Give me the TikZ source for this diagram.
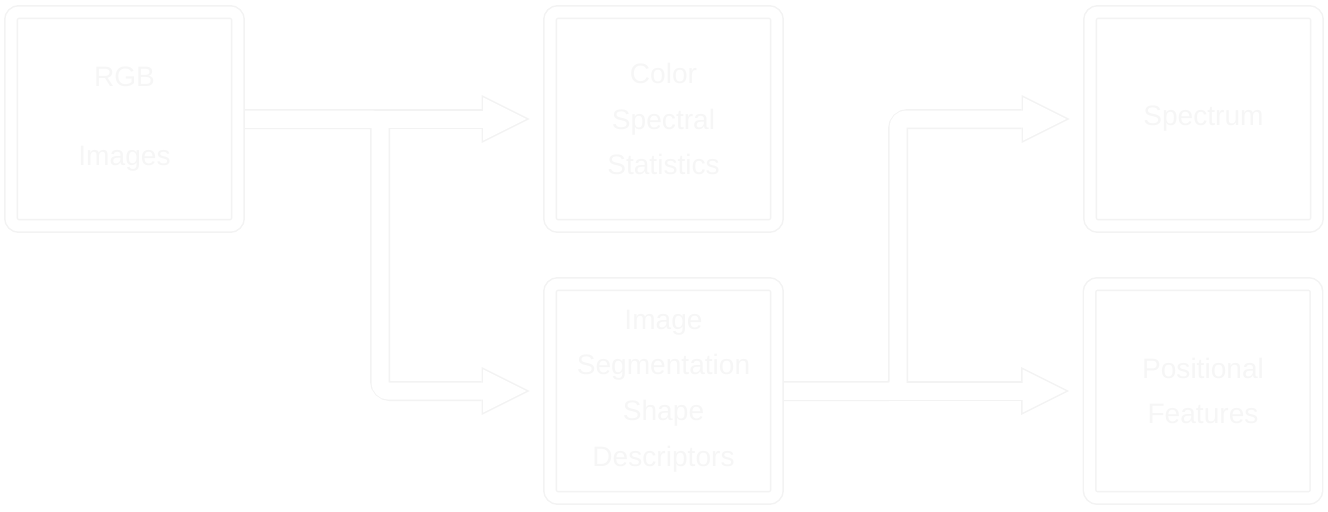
\documentclass[tikz,border=0pt]{standalone}
\usepackage{fontspec}
\setmainfont{Liberation Sans}
\usetikzlibrary{arrows.meta}
\definecolor{edge}{HTML}{F3F3F3}
\definecolor{ink}{HTML}{F6F6F6}
\begin{document}
\begin{tikzpicture}[x=0.02cm, y=-0.02cm,
    box/.style={draw=edge, line width=0.03cm, double=white, double distance=0.22cm, rounded corners=0.16cm, minimum width=4.54cm, minimum height=4.28cm, align=center, text=ink, font=\fontsize{16}{26}\selectfont},
    shaftout/.style={draw=edge, line width=0.4cm, rounded corners=0.2cm, shorten >=0.4cm, -{Triangle[length=0.96cm, width=0.96cm, line width=0pt]}},
    shaftin/.style={draw=white, line width=0.34cm, rounded corners=0.17cm, shorten >=0.467cm, -{Triangle[length=0.863cm, width=0.863cm, line width=0pt]}}]
    \useasboundingbox (0, 0) rectangle (1328, 511);
    \coordinate (s1) at (380, 254);
    \coordinate (s2) at (898, 254);
    \path (124.5, 119) coordinate (pL) (663.5, 119) coordinate (pA) (663.5, 391) coordinate (pB) (1203.5, 119) coordinate (pC) (1203, 391) coordinate (pD);
    \path (pL) node [minimum width=4.54cm, minimum height=4.28cm] (L) {}
          (pA) node [minimum width=4.54cm, minimum height=4.28cm] (A) {}
          (pB) node [minimum width=4.54cm, minimum height=4.28cm] (B) {}
          (pC) node [minimum width=4.54cm, minimum height=4.28cm] (C) {}
          (pD) node [minimum width=4.54cm, minimum height=4.28cm] (D) {};
    \foreach \s in {shaftout, shaftin} {
      \draw [\s] (L.east) -- (A.west);
      \draw [\s] (L.east) -| (s1) |- (B.west);
      \draw [\s] (B.east) -- (D.west);
      \draw [\s] (B.east) -| (s2) |- (C.west);
    }
    \node [box] at (pL) {RGB\\[0.68cm] Images};
    \node [box] at (pA) {Color\\ Spectral\\ Statistics};
    \node [box] at (pB) {Image\\ Segmentation\\ Shape\\ Descriptors};
    \node [box] at (pC) {Spectrum};
    \node [box] at (pD) {Positional\\ Features};
\end{tikzpicture}
\end{document}
